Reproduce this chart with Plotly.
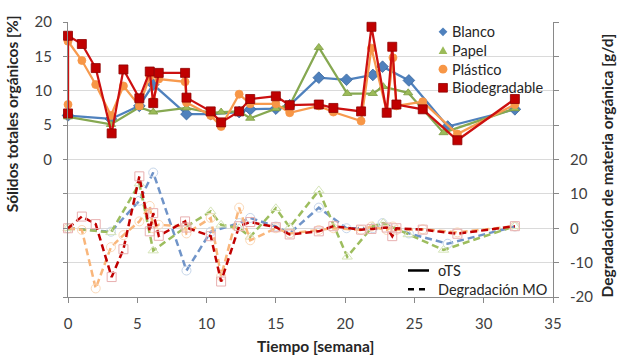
import plotly.graph_objects as go

# ---------------- oTS: organic total solids [%] (solid lines, left axis) ----------------
weeks_blanco = [0, 3.1, 5.15, 6.15, 8.55, 10.3, 12.35, 13.15, 15, 16, 18.1, 20.1, 22.0, 22.7, 24.6, 27.4, 32.25]
ots_blanco = [6.4, 5.9, 7.8, 10.9, 6.6, 6.6, 6.9, 7.3, 7.4, 7.9, 11.9, 11.6, 12.3, 13.5, 11.5, 4.8, 7.3]

weeks_papel = [0, 3.1, 5.15, 6.15, 8.55, 10.3, 11.05, 12.35, 13.15, 15, 16, 18.1, 20.15, 22.0, 22.75, 24.55, 27.1, 32.25]
ots_papel = [6.2, 5.1, 7.6, 6.9, 7.5, 6.8, 6.9, 7.0, 6.0, 7.4, 7.9, 16.3, 9.6, 9.6, 10.6, 9.7, 3.9, 7.4]

weeks_plastico = [0, 0, 1, 2, 3.1, 4, 5.15, 5.9, 6.15, 6.55, 8.45, 8.55, 10.3, 11.05, 12.35, 13.15,
                  15, 16, 18.1, 19.15, 21.15, 21.9, 23.0, 23.45, 23.7, 25.6, 28.1, 32.25]
ots_plastico = [8.0, 17.2, 14.4, 10.9, 6.4, 10.7, 7.8, 12.1, 8.5, 11.7, 11.3, 8.3, 6.4, 4.8, 9.5, 8.1,
                8.1, 6.8, 7.8, 6.9, 5.6, 16.2, 7.0, 14.8, 7.8, 8.4, 3.7, 8.0]

weeks_biodeg = [0, 0, 1, 2, 3.15, 4, 5.15, 5.9, 6.15, 6.55, 8.45, 8.55, 10.3, 11.05, 12.35, 13.15,
                15, 16, 18.1, 19.15, 21.15, 21.9, 23.0, 23.4, 23.7, 25.6, 28.1, 32.25]
ots_biodeg = [6.7, 18.0, 16.8, 13.3, 3.8, 13.1, 8.9, 12.8, 8.2, 12.6, 12.6, 9.0, 7.0, 5.4, 7.0, 8.8,
              9.2, 7.9, 8.0, 7.5, 7.0, 19.3, 6.8, 16.4, 8.0, 7.3, 2.8, 8.8]

# ---------------- Organic matter degradation [g/d] (dashed lines, right axis) ----------------
weeks_blanco_mo = [0, 3.1, 5.15, 6.15, 8.55, 10.3, 12.35, 13.15, 15, 16, 18.1, 20.1, 22.0, 22.7, 24.6, 27.4, 32.25]
mo_blanco = [0, -1.0, 8.0, 16.2, -12.3, -1.0, 1.5, 3.0, 0.5, -1.5, 6.0, 0.0, 0.0, 1.5, -1.5, -4.5, 0.5]

weeks_papel_mo = [0, 3.1, 5.15, 6.15, 8.55, 10.3, 11.05, 12.35, 13.15, 15, 16, 18.1, 20.15, 22.0, 22.75, 24.55, 27.1, 32.25]
mo_papel = [0, -1.2, 13.0, -6.5, 0.5, 4.9, 1.0, 0.0, -2.5, 5.8, 0.3, 11.0, -8.3, 0.6, 1.5, -1.8, -6.3, 0.6]

weeks_plastico_mo = [0, 1, 2, 3.1, 4, 5.15, 5.9, 6.15, 6.55, 8.45, 8.55, 10.3, 11.05, 12.35, 13.15,
                     15, 16, 18.1, 19.15, 21.15, 21.9, 23.0, 23.45, 23.7, 25.6, 28.1, 32.25]
mo_plastico = [0, -0.5, -17.5, -5.5, -2.0, 2.0, 6.5, 0.0, 1.0, 0.5, -1.5, 3.0, -14.0, 6.0, -3.5,
               0.0, -1.5, -0.5, 0.0, -0.5, 0.5, -0.5, 0.5, -0.5, -0.3, -1.2, 0.6]

weeks_biodeg_mo = [0, 1, 2, 3.15, 4, 5.15, 5.9, 6.15, 6.55, 8.45, 8.55, 10.3, 11.05, 12.35, 13.15,
                   15, 16, 18.1, 19.15, 21.15, 21.9, 23.0, 23.4, 23.7, 25.6, 28.1, 32.25]
mo_biodeg = [0, 3.4, 1.2, -14.2, -6.1, 15.1, -0.9, 4.4, -2.2, 2.0, 0.2, -2.3, -15.5, 0.6, 1.8,
             0.3, -1.8, -0.9, 0.6, -0.4, -0.2, 0.2, -2.3, 0.0, -0.4, -1.6, 0.6]

# Axis ticks
x_ticks = [0, 5, 10, 15, 20, 25, 30, 35]
left_ticks = [-20, -15, -10, -5, 0, 5, 10, 15, 20]
left_labels = ["", "", "", "", "0", "5", "10", "15", "20"]
right_ticks = [-20, -10, 0, 10, 20, 30, 40, 50, 60]
right_labels = ["-20", "-10", "0", "10", "20", "", "", "", ""]

treatments = ["Blanco", "Papel", "Plástico", "Biodegradable"]

FONT = "Lato"
AXIS_GREY = "#898989"
TEXT = "#404040"

# Plot-area frame in pixels (used to place the free-standing labels)
W, H = 617, 358
L, R, T, B = 68, 553, 17, 297


def px(x):
    return (x - L) / (R - L)


def py(y):
    return (B - y) / (B - T)


styles = {
    "Blanco": dict(sym="diamond", size=9, fill="#4F81BD", edge="#3A679E", line="#4F81BD",
                   dline="#7094C8", open="circle-open", ocol="#C6D6EA"),
    "Papel": dict(sym="triangle-up", size=8, fill="#9BBB59", edge="#7E9C44", line="#86A851",
                  dline="#9DBD5E", open="triangle-up-open", ocol="#D5E4B8"),
    "Plástico": dict(sym="circle", size=8, fill="#F79646", edge="#F79646", line="#F79A4E",
                     dline="#F9B67B", open="circle-open", ocol="#FCD9B8"),
    "Biodegradable": dict(sym="square", size=9, fill="#C00000", edge="#8E0000", line="#CC1010",
                          dline="#C00000", open="square-open", ocol="#E8B0B0"),
}

ots = {
    "Blanco": (weeks_blanco, ots_blanco),
    "Papel": (weeks_papel, ots_papel),
    "Plástico": (weeks_plastico, ots_plastico),
    "Biodegradable": (weeks_biodeg, ots_biodeg),
}
mo = {
    "Blanco": (weeks_blanco_mo, mo_blanco),
    "Papel": (weeks_papel_mo, mo_papel),
    "Plástico": (weeks_plastico_mo, mo_plastico),
    "Biodegradable": (weeks_biodeg_mo, mo_biodeg),
}

fig = go.Figure()

# Degradation series (dashed, right axis)
for name in treatments:
    s = styles[name]
    xs, ys = mo[name]
    fig.add_trace(go.Scatter(
        x=xs, y=ys, yaxis="y2", mode="lines+markers", name=name + " MO",
        line=dict(color=s["dline"], width=2.5, dash="7px,4px"),
        marker=dict(symbol=s["open"], size=9, color=s["ocol"], line=dict(width=1)),
        cliponaxis=False, showlegend=False,
    ))

# oTS series (solid, left axis)
for name in treatments:
    s = styles[name]
    xs, ys = ots[name]
    fig.add_trace(go.Scatter(
        x=xs, y=ys, yaxis="y", mode="lines+markers", name=name,
        line=dict(color=s["line"], width=2.25),
        marker=dict(symbol=s["sym"], size=s["size"], color=s["fill"],
                    line=dict(color=s["edge"], width=0.8)),
        cliponaxis=False, showlegend=False,
    ))

shapes = []
annotations = []

# Treatment key (top right)
key_x = 443
for i, name in enumerate(treatments):
    s = styles[name]
    cy = 27 + 19 * i
    h = 4.4
    if s["sym"] == "diamond":
        path = (f"M {px(key_x)} {py(cy - h)} L {px(key_x + h)} {py(cy)} "
                f"L {px(key_x)} {py(cy + h)} L {px(key_x - h)} {py(cy)} Z")
        shapes.append(dict(type="path", xref="paper", yref="paper", path=path,
                           fillcolor=s["fill"], line=dict(width=0)))
    elif s["sym"] == "triangle-up":
        path = (f"M {px(key_x)} {py(cy - h)} L {px(key_x + h)} {py(cy + h * 0.8)} "
                f"L {px(key_x - h)} {py(cy + h * 0.8)} Z")
        shapes.append(dict(type="path", xref="paper", yref="paper", path=path,
                           fillcolor=s["fill"], line=dict(width=0)))
    elif s["sym"] == "circle":
        shapes.append(dict(type="circle", xref="paper", yref="paper",
                           x0=px(key_x - h), x1=px(key_x + h), y0=py(cy + h), y1=py(cy - h),
                           fillcolor=s["fill"], line=dict(width=0)))
    else:
        shapes.append(dict(type="rect", xref="paper", yref="paper",
                           x0=px(key_x - h), x1=px(key_x + h), y0=py(cy + h), y1=py(cy - h),
                           fillcolor=s["fill"], line=dict(color=s["edge"], width=0.8)))
    annotations.append(dict(x=px(450), y=py(cy), xref="paper", yref="paper", text=name,
                            showarrow=False, xanchor="left", yanchor="middle",
                            font=dict(family=FONT, size=14.5, color="#262626")))

# Line-style key (bottom right)
for i, (label, dash) in enumerate([("oTS", "solid"), ("Degradación MO", "6px,5px")]):
    cy = 270 + 19 * i
    shapes.append(dict(type="line", xref="paper", yref="paper",
                       x0=px(408), x1=px(429), y0=py(cy), y1=py(cy),
                       line=dict(color="#000000", width=2.5, dash=dash)))
    annotations.append(dict(x=px(436), y=py(cy), xref="paper", yref="paper", text=label,
                            showarrow=False, xanchor="left", yanchor="middle",
                            font=dict(family=FONT, size=14.5, color="#262626")))

# Axis titles
title_font = dict(family=FONT, size=15.5, color="#262626")
annotations.append(dict(x=px(315), y=py(347), xref="paper", yref="paper",
                        text="<b>Tiempo [semana]</b>", showarrow=False,
                        xanchor="center", yanchor="middle", font=title_font))
annotations.append(dict(x=px(12), y=py(111), xref="paper", yref="paper",
                        text="<b>Sólidos totales orgánicos [%]</b>", showarrow=False,
                        textangle=-90, xanchor="center", yanchor="middle", font=title_font))
annotations.append(dict(x=px(607), y=py(163), xref="paper", yref="paper",
                        text="<b>Degradación de materia orgánica [g/d]</b>", showarrow=False,
                        textangle=-90, xanchor="center", yanchor="middle", font=title_font))

tick_font = dict(family=FONT, size=15, color=TEXT)

fig.update_layout(
    width=W, height=H,
    margin=dict(l=L, r=W - R, t=T, b=H - B, pad=0),
    paper_bgcolor="white", plot_bgcolor="white",
    font=dict(family=FONT, color=TEXT),
    showlegend=False,
    xaxis=dict(range=[0, 35], tickvals=x_ticks, ticks="outside", ticklen=5, tickcolor=AXIS_GREY,
               showline=True, linecolor=AXIS_GREY, linewidth=1, showgrid=False, zeroline=False,
               tickfont=tick_font, ticklabelstandoff=8),
    yaxis=dict(range=[-20, 20], tickvals=left_ticks, ticktext=left_labels, ticks="outside",
               ticklen=4, tickcolor=AXIS_GREY, showline=True, linecolor=AXIS_GREY, linewidth=1,
               showgrid=True, gridcolor="#DADADA", gridwidth=1, zeroline=False,
               tickfont=tick_font, ticklabelstandoff=8),
    yaxis2=dict(range=[-20, 60], overlaying="y", side="right", tickvals=right_ticks,
                ticktext=right_labels, ticks="outside", ticklen=5, tickcolor=AXIS_GREY,
                showline=True, linecolor=AXIS_GREY, linewidth=1, showgrid=False, zeroline=False,
                tickfont=tick_font, ticklabelstandoff=8),
    shapes=shapes,
    annotations=annotations,
)

fig.write_html("out.html")
